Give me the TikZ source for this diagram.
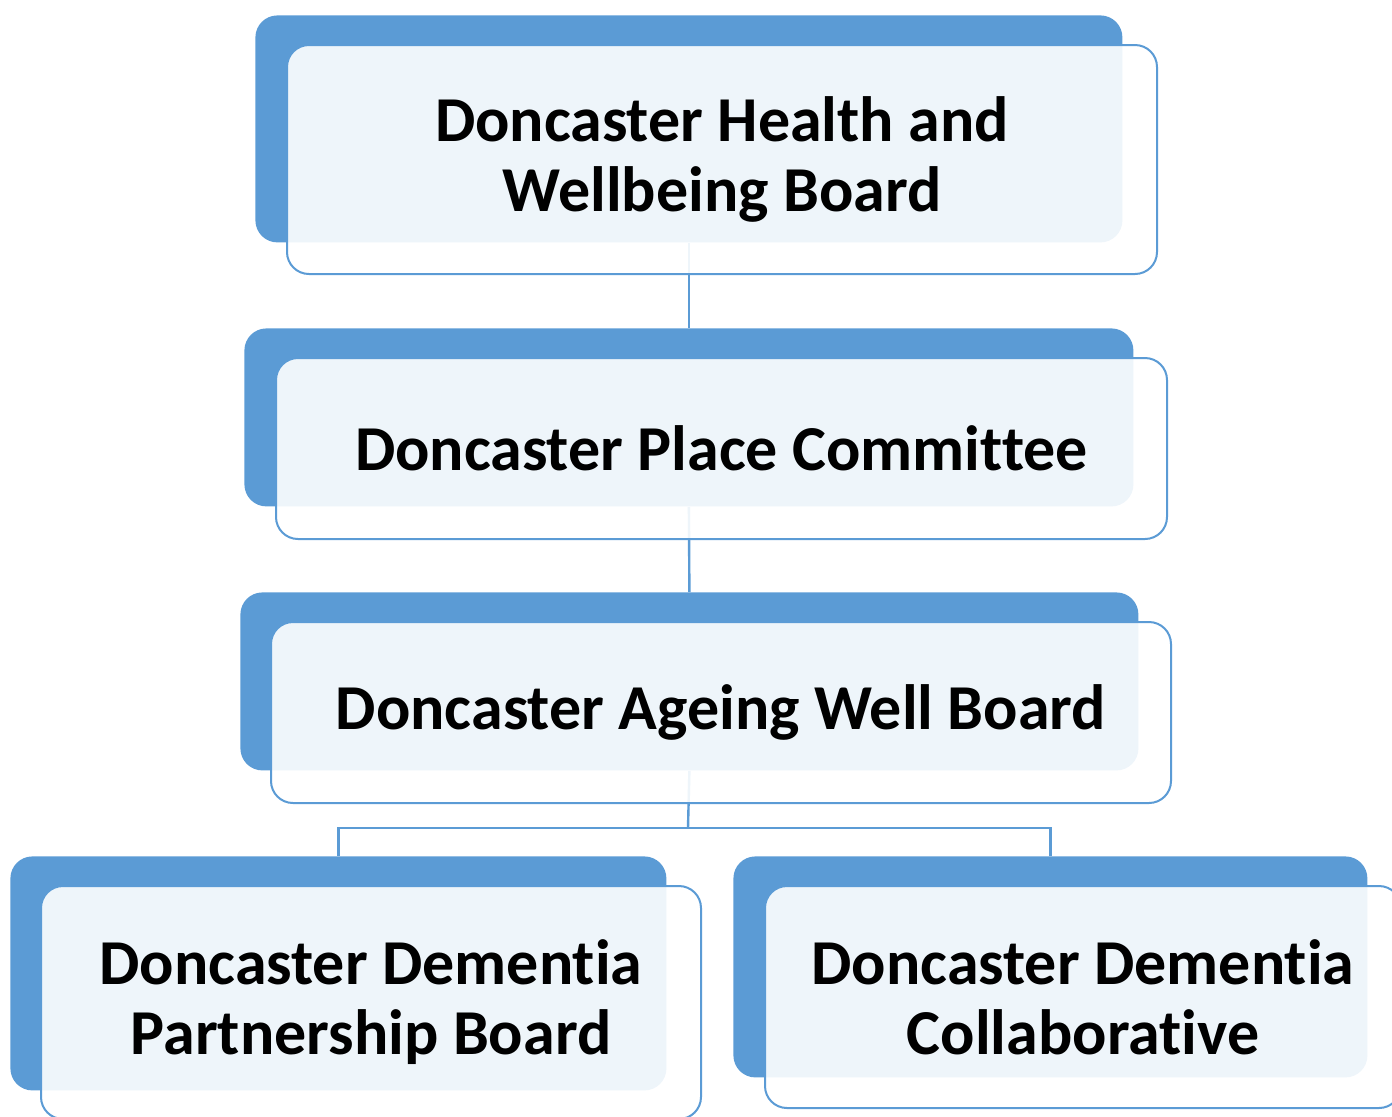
\documentclass[tikz,border=0pt]{standalone}
\usepackage{fontspec}
\setmainfont{Carlito}[Ligatures={NoCommon}]
\usepackage{tikz}

\definecolor{boardblue}{HTML}{5B9BD5}

\begin{document}
\begin{tikzpicture}[
		x=0.5pt, y=-0.5pt,
		every node/.style={rectangle, rounded corners=11pt, anchor=north west, inner sep=0pt},
		back/.style={fill=boardblue},
		front/.style={draw=boardblue, line width=1pt, fill=white, fill opacity=0.9, text opacity=1,
			align=center, font=\bfseries\fontsize{32}{35}\selectfont},
		link/.style={draw=boardblue, line width=1.2pt}
	]
  \useasboundingbox (0,0) rectangle (1392,1116);
  % blue tabs behind each board
  \node (hwb_back) [back, minimum width=433.5pt, minimum height=113.5pt] at (255,15) {};
  \node (dpc_back) [back, minimum width=444.5pt, minimum height=89pt] at (244,328) {};
  \node (daw_back) [back, minimum width=449pt, minimum height=89pt] at (240,592) {};
  \node (ddp_back) [back, minimum width=328pt, minimum height=117pt] at (10,856) {};
  \node (ddc_back) [back, minimum width=317pt, minimum height=110.5pt] at (733,856) {};
  % reporting lines
  \coordinate (split) at (688,828);
  \draw [link] (hwb_back.south) -- (dpc_back.north);
  \draw [link] (dpc_back.south) -- (daw_back.north);
  \draw [link] (daw_back.south) -- (split);
  \draw [link] (split) -| (ddp_back.north);
  \draw [link] (split) -| (ddc_back.north);
  % boards
  \node (hwb) [front, minimum width=435pt, minimum height=114.5pt] at (286,44) {Doncaster Health and\\Wellbeing Board};
  \node (dpc) [front, minimum width=445.5pt, minimum height=90.5pt] at (275,357) {Doncaster Place Committee};
  \node (daw) [front, minimum width=450pt, minimum height=90.5pt] at (270,621) {Doncaster Ageing Well Board};
  \node (ddp) [front, minimum width=330pt, minimum height=116.5pt] at (40,885) {Doncaster Dementia\\Partnership Board};
  \node (ddc) [front, minimum width=318pt, minimum height=111pt] at (764,885) {Doncaster Dementia\\Collaborative};
\end{tikzpicture}
\end{document}
